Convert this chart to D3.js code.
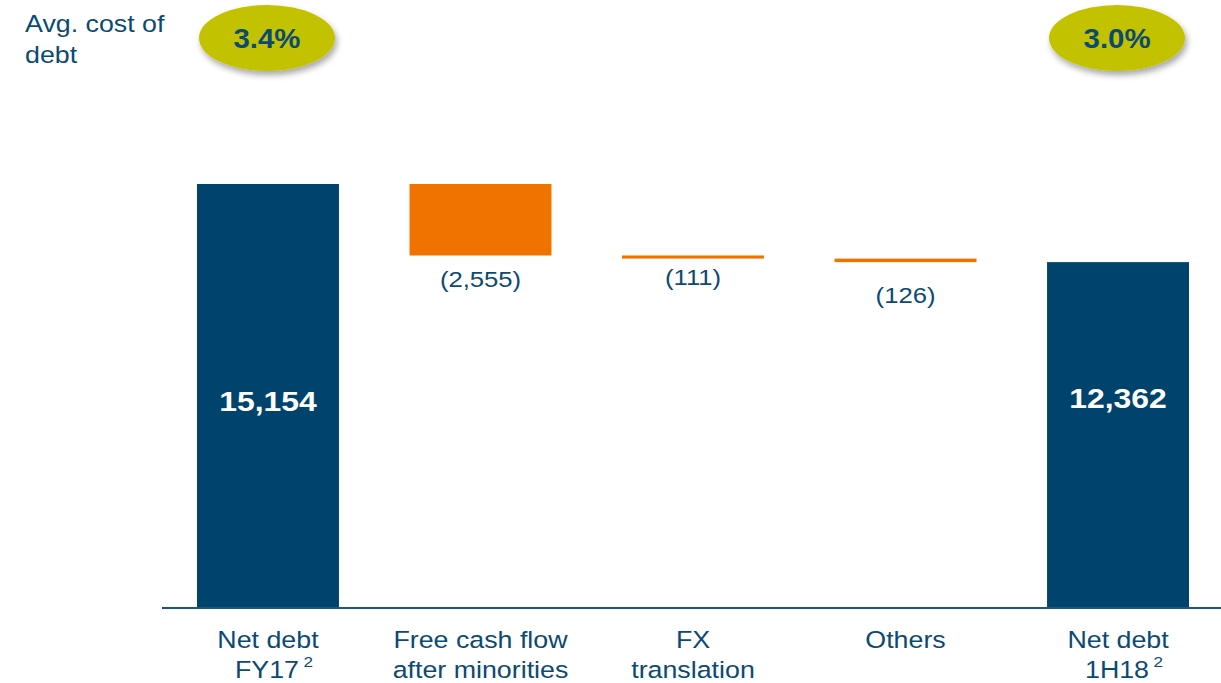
<!DOCTYPE html>
<html><head><meta charset="utf-8">
<script src="https://cdn.jsdelivr.net/npm/d3@7"></script>
<style>body{margin:0;background:#fff}svg{display:block;font-family:"Liberation Sans",Arial,sans-serif}</style>
</head><body><svg id="c" width="1221" height="683"></svg>
<script>
const categories = ["Net debt FY17", "Free cash flow after minorities", "FX translation", "Others", "Net debt 1H18"];
const labelLine1 = ["Net debt", "Free cash flow", "FX", "Others", "Net debt"];
const labelLine2 = ["FY17", "after minorities", "translation", "", "1H18"];
const labelSup = ["2", "", "", "", "2"];
const values = [15154, -2555, -111, -126, 12362];
const kinds = ["total", "delta", "delta", "delta", "total"];
const valueLabels = ["15,154", "(2,555)", "(111)", "(126)", "12,362"];
const costOfDebt = [{cat: 0, text: "3.4%"}, {cat: 4, text: "3.0%"}];
const deltaLabelGap = [0, 25, 19, 34, 0];

const navy = "#00446e", orange = "#f07300", olive = "#c3c200", textBlue = "#0b4a73";
const SX = 1.14;
const svg = d3.select("#c");
const baseY = 608;
const y = d3.scaleLinear().domain([0, 15154]).range([baseY, 184]);
const x = d3.scaleBand().domain(categories).range([163, 1223]).paddingInner(0.332).paddingOuter(0.16);

function txt(px, py, s, size, opts = {}) {
  const t = svg.append("text")
    .attr("transform", `translate(${px},${py}) scale(${opts.sx || SX},1)`)
    .attr("text-anchor", opts.anchor || "middle")
    .attr("fill", opts.fill || textBlue)
    .attr("font-size", size)
    .attr("font-weight", opts.bold ? "bold" : null);
  if (s != null) t.text(s);
  return t;
}

// compute waterfall
let run = 0;
const bars = values.map((v, i) => {
  let lo, hi;
  if (kinds[i] === "total") { lo = 0; hi = v; run = v; }
  else { hi = run; lo = run + v; run = lo; }
  return {i, cat: categories[i], lo, hi, kind: kinds[i]};
});

const defs = svg.append("defs");
const f = defs.append("filter").attr("id", "sh").attr("x", "-30%").attr("y", "-30%").attr("width", "160%").attr("height", "170%");
f.append("feDropShadow").attr("dx", 2).attr("dy", 4).attr("stdDeviation", 3).attr("flood-color", "#000").attr("flood-opacity", 0.35);

svg.selectAll("rect.bar").data(bars).join("rect")
  .attr("x", d => x(d.cat)).attr("width", x.bandwidth())
  .attr("y", d => y(d.hi)).attr("height", d => Math.max(y(d.lo) - y(d.hi), 3))
  .attr("fill", d => d.kind === "total" ? navy : orange);

svg.append("line").attr("x1", 162).attr("x2", 1221).attr("y1", baseY).attr("y2", baseY)
  .attr("stroke", "#1b5680").attr("stroke-width", 2);

// value labels
bars.forEach(d => {
  const cx = x(d.cat) + x.bandwidth() / 2;
  if (d.kind === "total") {
    txt(cx, d.i === 0 ? 411 : 408, valueLabels[d.i], 28, {fill: "#fff", bold: true});
  } else {
    txt(cx, y(d.lo) + deltaLabelGap[d.i] + 7, valueLabels[d.i], 22.5);
  }
});

// category labels
categories.forEach((c, i) => {
  const cx = x(c) + x.bandwidth() / 2;
  txt(cx, 648, labelLine1[i], 23.5);
  if (labelLine2[i]) {
    const t = txt(cx + (labelSup[i] ? 6 : 0), 678, null, 23.5);
    t.append("tspan").text(labelLine2[i]);
    if (labelSup[i]) t.append("tspan").attr("font-size", 15).attr("dx", 4).attr("dy", -11).text(labelSup[i]);
  }
});

// avg cost of debt
txt(25, 32, "Avg. cost of", 23.5, {anchor: "start"});
txt(25, 63, "debt", 23.5, {anchor: "start"});
costOfDebt.forEach(d => {
  const cx = x(categories[d.cat]) + x.bandwidth() / 2 - 1;
  svg.append("ellipse").attr("cx", cx).attr("cy", 38).attr("rx", 68).attr("ry", 33)
    .attr("fill", olive).attr("filter", "url(#sh)");
  txt(cx, 48, d.text, 28, {bold: true, sx: 1.05});
});
</script></body></html>
